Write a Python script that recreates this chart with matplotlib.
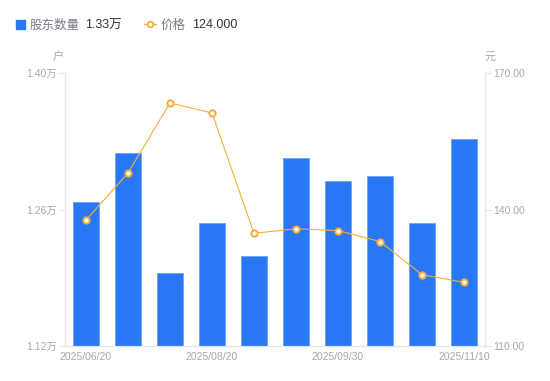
import numpy as np
import matplotlib
matplotlib.use("Agg")
from matplotlib import pyplot as plt

plt.rcParams['font.family'] = ['Liberation Sans', 'Noto Sans CJK SC', 'DejaVu Sans']

# data
dates = ['2025/06/20', '2025/07/10', '2025/07/31', '2025/08/20', '2025/08/31',
         '2025/09/10', '2025/09/30', '2025/10/20', '2025/10/31', '2025/11/10']
holders = [1.268, 1.318, 1.195, 1.246, 1.212, 1.313, 1.289, 1.295, 1.246, 1.333]  # 万户
price = [137.7, 148.1, 163.5, 161.3, 134.8, 135.8, 135.4, 133.0, 125.7, 124.0]  # 元
left_ticks = [1.12, 1.26, 1.40]
right_ticks = [110, 140, 170]
shown_dates = [0, 3, 6, 9]

BLUE = '#2878f5'
ORANGE = '#f7ad3c'
AXIS = '#e3e5ea'
LABEL = '#a3a8b4'
CJK = ['Noto Sans CJK SC', 'DejaVu Sans']

W, H = 550, 381
fig = plt.figure(figsize=(W / 100, H / 100), dpi=100)
ax = fig.add_axes([65 / W, (H - 346) / H, 420 / W, (346 - 73.4) / H])
x = np.arange(len(dates))

ax.bar(x, holders, width=0.6, color=BLUE, edgecolor='#6fa3f7', linewidth=0.6, zorder=2)
ax.set_xlim(-0.5, len(dates) - 0.5)
ax.set_ylim(left_ticks[0], left_ticks[-1])
ax.set_yticks(left_ticks)
ax.set_yticklabels(['%.2f万' % v for v in left_ticks])
ax.set_xticks(shown_dates)
ax.set_xticklabels([dates[i] for i in shown_dates])

ax2 = ax.twinx()
ax2.plot(x, price, color=ORANGE, linewidth=0.8, marker='o', markersize=4.5,
         markerfacecolor='white', markeredgecolor=ORANGE, markeredgewidth=1.4, zorder=3)
ax2.set_ylim(right_ticks[0], right_ticks[-1])
ax2.set_yticks(right_ticks)
ax2.set_yticklabels(['%.2f' % v for v in right_ticks])

for a in (ax, ax2):
    for s in a.spines.values():
        s.set_color(AXIS)
        s.set_linewidth(0.8)
    a.spines['top'].set_visible(False)
    a.tick_params(colors=AXIS, labelcolor=LABEL, labelsize=7.5, length=4, width=0.8)
ax.tick_params(axis='x', length=0, pad=4)
ax.tick_params(axis='y', pad=2)
ax2.tick_params(axis='y', pad=2)

# unit labels
fig.text(58 / W, 1 - 57 / H, '户', color=LABEL, fontsize=8, ha='center', va='center', family=CJK)
fig.text(490 / W, 1 - 57 / H, '元', color=LABEL, fontsize=8, ha='center', va='center', family=CJK)

# legend row
ly = 1 - 24 / H
fig.patches.append(plt.Rectangle((16 / W, 1 - 29 / H), 9 / W, 9 / H, color=BLUE,
                                 transform=fig.transFigure, figure=fig))
fig.text(30 / W, ly, '股东数量', color='#777b85', fontsize=9, va='center_baseline', family=CJK)
fig.text(85 / W, ly, '%.2f万' % holders[-1], color='#333333', fontsize=9, va='center_baseline')
fig.add_artist(plt.Line2D([144 / W, 156 / W], [ly, ly], color=ORANGE,
                          linewidth=1, transform=fig.transFigure))
fig.add_artist(plt.Line2D([150 / W], [ly], marker='o', markersize=4,
                          markerfacecolor='white', markeredgecolor=ORANGE,
                          markeredgewidth=1.3, transform=fig.transFigure))
fig.text(161 / W, ly, '价格', color='#777b85', fontsize=9, va='center_baseline', family=CJK)
fig.text(192 / W, ly, '%.3f' % price[-1], color='#333333', fontsize=9, va='center_baseline')

fig.savefig('out.png', dpi=100)
